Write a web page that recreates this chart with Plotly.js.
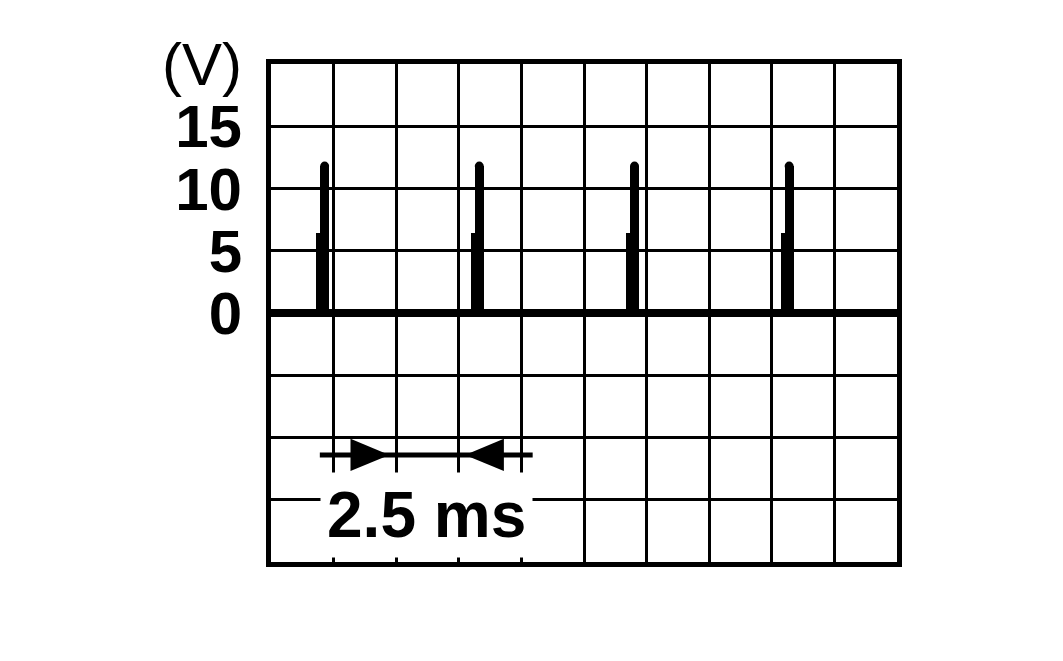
<!DOCTYPE html>
<html>
<head>
<meta charset="utf-8">
<script src="https://cdn.plot.ly/plotly-3.0.1.min.js"></script>
<style>
html, body { margin: 0; padding: 0; background: #fff; }
#graph { width: 1063px; height: 661px; }
</style>
</head>
<body>
<div id="graph"></div>
<script>
// x is in scope divisions, y in volts
var spikeStart = [0.72, 3.19, 5.67, 8.14];
var stepVolts = [6.4, 6.4, 6.4, 6.4];
var peakVolts = [11.8, 11.8, 11.8, 11.8];
var voltTicks = [-15, -10, -5, 0, 5, 10, 15, 20];
var voltLabels = ['', '', '', '<b>0</b>', '<b>5</b>', '<b>10</b>', '<b>15</b>', '(V)'];
var periodLabel = '<b>2.5 ms</b>';
var periodFrom = 1.89, periodTo = 3.1;   // arrow tips
var periodLevel = -11.4;

var wideW = 0.207, narrowW = 0.14;

function drawScope() {
    var wideX = spikeStart.map(function (t) { return t + wideW / 2; });
    var narrowX = spikeStart.map(function (t) { return t + wideW - narrowW / 2; });

    var data = [
        {x: wideX, y: stepVolts, type: 'bar', width: wideW, marker: {color: '#000', line: {width: 0}}},
        {x: narrowX, y: peakVolts, type: 'bar', width: narrowW, marker: {color: '#000', line: {width: 0}}},
        {x: narrowX, y: peakVolts, type: 'scatter', mode: 'markers', marker: {color: '#000', size: 9, symbol: 'circle'}}
    ];

    // dimension arrows for the period
    var headLen = 0.62, headH = 1.29;
    var y0 = periodLevel;
    var shapes = [
        {type: 'line', xref: 'x', yref: 'y', x0: periodFrom - 1.11, x1: periodTo + 1.08, y0: y0, y1: y0,
         line: {color: '#000', width: 5}},
        {type: 'path', xref: 'x', yref: 'y', fillcolor: '#000', line: {width: 0},
         path: 'M' + periodFrom + ',' + y0 + ' L' + (periodFrom - headLen) + ',' + (y0 + headH) +
               ' L' + (periodFrom - headLen) + ',' + (y0 - headH) + ' Z'},
        {type: 'path', xref: 'x', yref: 'y', fillcolor: '#000', line: {width: 0},
         path: 'M' + periodTo + ',' + y0 + ' L' + (periodTo + headLen) + ',' + (y0 + headH) +
               ' L' + (periodTo + headLen) + ',' + (y0 - headH) + ' Z'}
    ];

    var layout = {
        width: 1063, height: 661,
        margin: {l: 271, r: 166, t: 64, b: 99},
        paper_bgcolor: '#fff', plot_bgcolor: '#fff',
        showlegend: false, barmode: 'overlay', bargap: 0,
        font: {family: 'Liberation Sans, Arial, sans-serif', color: '#000'},
        xaxis: {range: [0, 10], tick0: 0, dtick: 1, showgrid: true, gridcolor: '#000', gridwidth: 3,
                showline: true, linecolor: '#000', linewidth: 5, mirror: true,
                zeroline: false, showticklabels: false, ticks: ''},
        yaxis: {range: [-20, 20], tickvals: voltTicks, ticktext: voltLabels, showgrid: true,
                gridcolor: '#000', gridwidth: 3, showline: true, linecolor: '#000', linewidth: 5, mirror: true,
                zeroline: true, zerolinecolor: '#000', zerolinewidth: 8, ticks: '',
                ticklabelstandoff: 12, tickfont: {size: 60, color: '#000'}},
        shapes: shapes,
        annotations: [{x: 2.49, y: -16.2, xref: 'x', yref: 'y', text: periodLabel, showarrow: false,
                       font: {size: 64, color: '#000'}, bgcolor: '#fff', borderpad: 6}]
    };

    Plotly.newPlot('graph', data, layout, {staticPlot: true, displayModeBar: false});
}

drawScope();
</script>
</body>
</html>
